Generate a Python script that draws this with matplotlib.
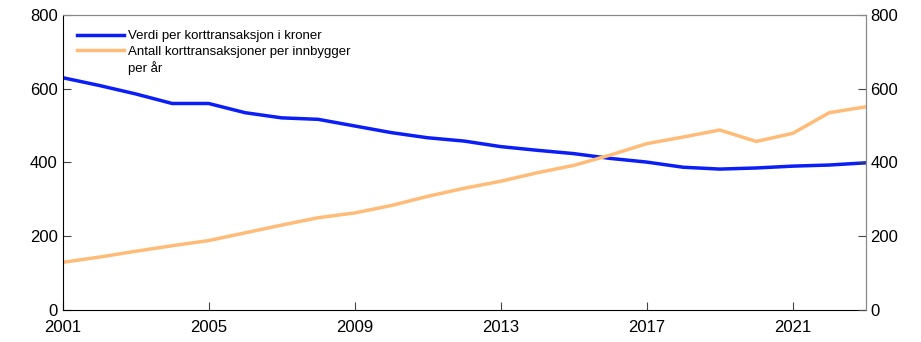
import matplotlib
matplotlib.use("Agg")
from matplotlib import pyplot as plt

plt.rcParams['font.family'] = ['Liberation Sans', 'DejaVu Sans']

years = list(range(2001, 2024))
verdi = [630, 609, 586, 560, 560, 535, 521, 517, 499, 481, 467, 458,
         443, 433, 424, 411, 401, 387, 382, 385, 390, 393, 399]
antall = [129, 143, 159, 174, 188, 209, 230, 250, 263, 283, 308, 330,
          349, 372, 392, 420, 451, 469, 488, 457, 479, 535, 551]
xticks = [2001, 2005, 2009, 2013, 2017, 2021]
yticks = [0, 200, 400, 600, 800]

fig = plt.figure(figsize=(9.21, 3.42), dpi=100)
ax = fig.add_axes([0.068, 0.094, 0.872, 0.862])

ax.plot(years, verdi, color='#0a1ef5', lw=2.5, label='Verdi per korttransaksjon i kroner')
ax.plot(years, antall, color='#ffbc78', lw=2.5, label='Antall korttransaksjoner per innbygger')
# second line of the orange label, kept under the first line like the original
ax.plot([], [], color='none', label='per år')

ax.set_xlim(2001, 2023)
ax.set_ylim(0, 800)
ax.set_xticks(xticks)
ax.set_yticks(yticks)

ax2 = ax.twinx()
ax2.set_ylim(0, 800)
ax2.set_yticks(yticks)

for a in (ax, ax2):
    a.tick_params(direction='in', length=6, labelsize=12, color='#444444')
ax.tick_params(axis='x', pad=7)
for s in ['top', 'right']:
    ax.spines[s].set_color('#888888')
    ax2.spines[s].set_color('#888888')
ax2.spines['left'].set_visible(False)
ax2.spines['bottom'].set_visible(False)

ax.legend(loc='upper left', bbox_to_anchor=(0.007, 0.98), frameon=False,
          fontsize=9.5, handlelength=3.5, borderaxespad=0.3,
          labelspacing=0.25, handletextpad=0.3)

plt.savefig('out.png', dpi=100)
